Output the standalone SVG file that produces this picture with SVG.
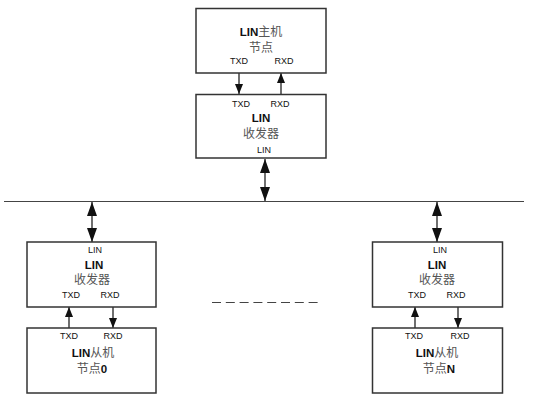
<svg xmlns="http://www.w3.org/2000/svg" width="545" height="400" viewBox="0 0 545 400">
<defs>
<style>
.box{fill:#fff;stroke:#333;stroke-width:1.5}
.ln{stroke:#222;stroke-width:1.3;fill:none}
.bus{stroke:#444;stroke-width:1.2;fill:none}
.pin{font-family:"Liberation Sans",Arial,sans-serif;font-size:9px;fill:#111;text-anchor:middle}
.tb{font-family:"Liberation Sans",Arial,sans-serif;font-size:11.5px;font-weight:bold;fill:#111;text-anchor:middle}
.cn{font-family:"Liberation Sans","Noto Sans CJK SC",sans-serif;font-size:12px;fill:#555;text-anchor:middle}
.cn .b{font-weight:bold;fill:#111;font-size:11.5px}
</style>
<marker id="s" markerUnits="userSpaceOnUse" markerWidth="10" markerHeight="8" refX="10" refY="4" orient="auto-start-reverse" viewBox="0 0 10 8"><path d="M0,0L10,4L0,8z" fill="#111"/></marker>
<marker id="b" markerUnits="userSpaceOnUse" markerWidth="14" markerHeight="10" refX="14" refY="5" orient="auto-start-reverse" viewBox="0 0 14 10"><path d="M0,0L14,5L0,10z" fill="#111"/></marker>
</defs>
<rect width="545" height="400" fill="#fff"/>
<g id="connectors">
<line class="bus" x1="4" y1="201.5" x2="524" y2="201.5"/>
<line class="bus" x1="212" y1="302.5" x2="318" y2="302.5" stroke-dasharray="9 4.8" stroke-width="2"/>
<line class="ln" x1="239" y1="73" x2="239" y2="94" marker-end="url(#s)"/>
<line class="ln" x1="281" y1="94" x2="281" y2="73" marker-end="url(#s)"/>
<line class="ln" x1="265" y1="159" x2="265" y2="201" marker-start="url(#b)" marker-end="url(#b)"/>
<line class="ln" x1="92" y1="202" x2="92" y2="242" marker-start="url(#b)" marker-end="url(#b)"/>
<line class="ln" x1="69" y1="328" x2="69" y2="307" marker-end="url(#s)"/>
<line class="ln" x1="113" y1="307" x2="113" y2="328" marker-end="url(#s)"/>
<line class="ln" x1="437" y1="202" x2="437" y2="242" marker-start="url(#b)" marker-end="url(#b)"/>
<line class="ln" x1="415" y1="328" x2="415" y2="307" marker-end="url(#s)"/>
<line class="ln" x1="458" y1="307" x2="458" y2="328" marker-end="url(#s)"/>
</g>
<g id="master">
<rect class="box" x="196" y="8.5" width="130" height="64.5"/>
<text class="cn" x="261" y="36"><tspan class="b">LIN</tspan>主机</text>
<text class="cn" x="261" y="52">节点</text>
<text class="pin" x="239" y="64">TXD</text>
<text class="pin" x="284" y="64">RXD</text>
</g>
<g id="master-transceiver">
<rect class="box" x="196" y="94.5" width="130" height="63.5"/>
<text class="pin" x="241" y="107">TXD</text>
<text class="pin" x="280" y="107">RXD</text>
<text class="tb" x="261" y="122">LIN</text>
<text class="cn" x="261" y="138">收发器</text>
<text class="pin" x="264" y="153">LIN</text>
</g>
<g id="transceiver-0">
<rect class="box" x="27" y="242" width="129" height="65"/>
<text class="pin" x="95" y="253">LIN</text>
<text class="tb" x="94" y="269">LIN</text>
<text class="cn" x="92" y="284">收发器</text>
<text class="pin" x="71" y="298">TXD</text>
<text class="pin" x="110" y="298">RXD</text>
</g>
<g id="slave-0">
<rect class="box" x="27" y="328" width="129" height="65"/>
<text class="pin" x="69" y="339">TXD</text>
<text class="pin" x="113" y="339">RXD</text>
<text class="cn" x="93" y="357"><tspan class="b">LIN</tspan>从机</text>
<text class="cn" x="92" y="373">节点<tspan class="b">0</tspan></text>
</g>
<g id="transceiver-n">
<rect class="box" x="372.5" y="242" width="130" height="65"/>
<text class="pin" x="440" y="253">LIN</text>
<text class="tb" x="437" y="269">LIN</text>
<text class="cn" x="437" y="284">收发器</text>
<text class="pin" x="417" y="298">TXD</text>
<text class="pin" x="456" y="298">RXD</text>
</g>
<g id="slave-n">
<rect class="box" x="372.5" y="328" width="130" height="65"/>
<text class="pin" x="414" y="339">TXD</text>
<text class="pin" x="460" y="339">RXD</text>
<text class="cn" x="437" y="357"><tspan class="b">LIN</tspan>从机</text>
<text class="cn" x="439" y="373">节点<tspan class="b">N</tspan></text>
</g>
</svg>
